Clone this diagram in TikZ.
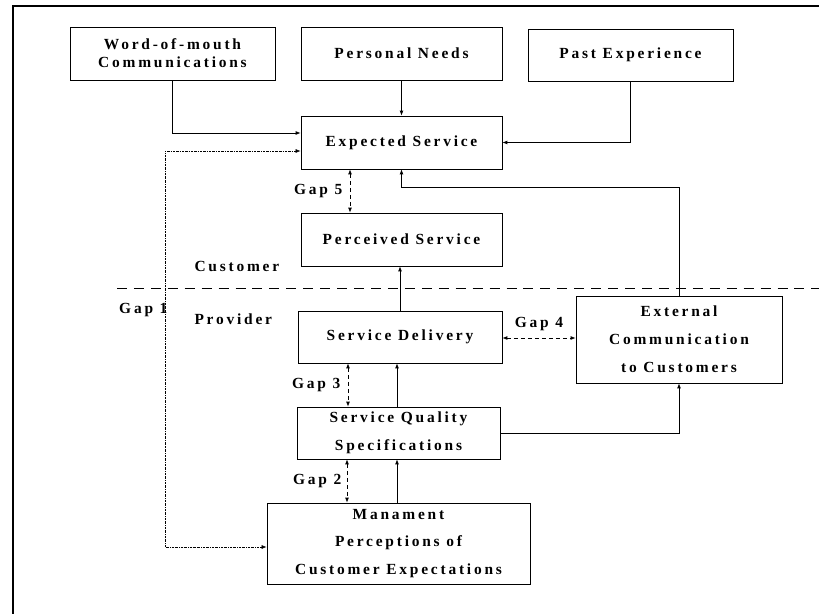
\documentclass[tikz,border=0pt]{standalone}
\usepackage{fontspec}
\setmainfont{Liberation Serif}[LetterSpace=18]
\usepackage{tikz}
\usetikzlibrary{arrows.meta,positioning}
\tikzstyle{box} = [draw,line width=.8pt,align=center,font=\bfseries\fontsize{15.5}{28}\selectfont]
\tikzstyle{lbl} = [font=\bfseries\fontsize{15.5}{18}\selectfont]
\tikzstyle{arrow} = [line width=.8pt,-{Latex[length=5pt,width=4pt]}]
\tikzstyle{gaparrow} = [line width=.8pt,dashed,dash pattern=on 4pt off 3pt,{Latex[length=5pt,width=4pt]}-{Latex[length=5pt,width=4pt]}]

\begin{document}
\begin{tikzpicture}[x=1bp,y=-1bp]
      \useasboundingbox (0,0) rectangle (819,614);
      \draw[line width=1.6pt](13,614)--(13,6)--(819,6);
      % the boxes
      \node[box,minimum width=205bp,minimum height=53bp,font=\bfseries\fontsize{15.5}{18}\selectfont](wom) at (172.5,53.5){Word-of-mouth\\Communications};
      \node[box,minimum width=201bp,minimum height=53bp](needs) at (401.5,53.5){Personal Needs};
      \node[box,minimum width=205bp,minimum height=52bp](past) at (630.5,55){Past Experience};
      \node[box,minimum width=201bp,minimum height=53bp](expected) at (401.5,142.5){Expected Service};
      \node[box,minimum width=201bp,minimum height=53bp](perceived) at (401.5,239.5){Perceived Service};
      \node[box,minimum width=204bp,minimum height=52bp](delivery) at (400,337){Service Delivery};
      \node[box,minimum width=203bp,minimum height=52bp](quality) at (398.5,433){Service Quality\\Specifications};
      \node[box,minimum width=263bp,minimum height=81bp](manage) at (398.5,543.5){Manament\\Perceptions of\\Customer Expectations};
      \node[box,minimum width=206bp,minimum height=87bp](external) at (679,339.5){External\\Communication\\to Customers};
      \node[lbl,anchor=west](customer) at (191,266){Customer};
      \node[lbl,anchor=west](provider) at (191,319){Provider};
      \draw[line width=.8pt,dash pattern=on 10pt off 7pt](117,288)--(819,288);
      % solid links
      \draw[arrow](needs)--(expected);
      \draw[arrow](wom.south)|-([yshift=9.5bp]expected.west);
      \draw[arrow](past.south)|-(expected.east);
      \coordinate (bend) at (401.5,187);
      \draw[arrow](external.north)|-(bend)--(expected.south);
      \draw[arrow](delivery.north)--(delivery.north|-perceived.south);
      \draw[arrow]([xshift=-1.5bp]quality.north)--([xshift=-1.5bp]quality.north|-delivery.south);
      \draw[arrow]([xshift=-1.5bp]manage.north)--([xshift=-1.5bp]manage.north|-quality.south);
      \draw[arrow](quality.east)-|(external.south);
      % gaps
      \draw[gaparrow]([xshift=-51.5bp]expected.south)--([xshift=-51.5bp]perceived.north)node[midway,left,lbl,xshift=-4bp]{Gap 5};
      \draw[gaparrow]([xshift=-52bp]delivery.south)--([xshift=-52bp]delivery.south|-quality.north)node[midway,left,lbl,xshift=-4bp]{Gap 3};
      \draw[gaparrow]([xshift=-51.5bp]quality.south)--([xshift=-51.5bp]quality.south|-manage.north)node[midway,left,lbl,xshift=-2bp]{Gap 2};
      \draw[gaparrow]([yshift=-1bp]delivery.east)--([yshift=-1bp]delivery.east-|external.west)node[midway,above,lbl,yshift=3bp]{Gap 4};
      \coordinate (gapone) at (165,400);
      \draw[line width=.6pt,dash pattern=on 2pt off 1pt on .5pt off 1pt,{Latex[length=5pt,width=4pt]}-{Latex[length=5pt,width=4pt]}]([yshift=-8.5bp]expected.west)-|(gapone)|-([yshift=-3.5bp]manage.west);
      \node[lbl,anchor=east](gap1) at (171,310){Gap 1};
\end{tikzpicture}
\end{document}
